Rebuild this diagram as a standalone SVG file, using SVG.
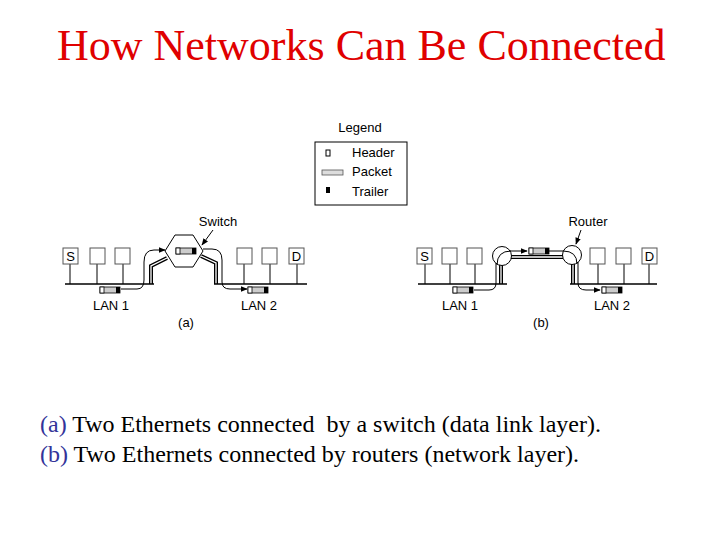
<svg xmlns="http://www.w3.org/2000/svg" width="720" height="540" viewBox="0 0 720 540">
<defs>
<style>
.title{font-family:"Liberation Serif","Times New Roman",serif;font-size:44px;fill:#e00000}
.cap{font-family:"Liberation Serif","Times New Roman",serif;font-size:24px;fill:#000}
.lbl{font-family:"Liberation Sans",Arial,sans-serif;font-size:13px;fill:#000}
.host{fill:#fff;stroke:#555;stroke-width:1}
.lan{stroke:#000;stroke-width:1.6;fill:none}
.thin{stroke:#000;stroke-width:1;fill:none}
.cableB{stroke:#000;stroke-width:4;fill:none}
.cableW{stroke:#fff;stroke-width:1.3;fill:none}
.rtr{fill:#fff;stroke:#000;stroke-width:1}
</style>
<marker id="ah" viewBox="0 0 10 10" refX="9" refY="5" markerWidth="7" markerHeight="7" orient="auto" markerUnits="userSpaceOnUse">
<path d="M0,1 L10,5 L0,9 Z" fill="#000"/>
</marker>
<g id="pkt">
<rect x="0" y="0" width="20" height="6" fill="#ccc" stroke="#000" stroke-width="0.8"/>
<rect x="0" y="0" width="4" height="6" fill="#fff" stroke="#000" stroke-width="0.8"/>
<rect x="16" y="0" width="4" height="6" fill="#000"/>
</g>
</defs>
<rect width="720" height="540" fill="#fff"/>
<text class="title" x="57" y="60">How Networks Can Be Connected</text>

<g id="legend">
<text class="lbl" x="360" y="132" text-anchor="middle">Legend</text>
<rect x="315" y="142" width="92" height="63" fill="#fff" stroke="#000" stroke-width="1"/>
<rect x="326" y="150" width="4" height="6" fill="#fff" stroke="#000" stroke-width="1"/>
<text class="lbl" x="352" y="157">Header</text>
<rect x="322" y="170" width="21" height="5" fill="#ddd" stroke="#555" stroke-width="0.8"/>
<text class="lbl" x="352" y="176">Packet</text>
<rect x="326" y="187" width="4" height="6" fill="#000"/>
<text class="lbl" x="352" y="196">Trailer</text>
</g>

<g id="connectors">
<!-- (a) cables -->
<path class="cableB" d="M151,284 L151,266 L167,258"/>
<path class="cableW" d="M151,284 L151,266 L167,258"/>
<path class="cableB" d="M201,256 L216,263 L216,284"/>
<path class="cableW" d="M201,256 L216,263 L216,284"/>
<!-- (a) arrows -->
<path class="thin" d="M121,289 L137,289 Q144,289 144,280 L144,262 Q144,250 154,250 L165,250" marker-end="url(#ah)"/>
<path class="thin" d="M203,249 L212,249 Q222,249 222,260 L222,282 Q222,289 230,289 L247,289" marker-end="url(#ah)"/>
<line class="thin" x1="213" y1="230" x2="202" y2="245" marker-end="url(#ah)"/>
<!-- (b) cables -->
<path class="cableB" d="M501,284 L501,262"/>
<path class="cableW" d="M501,284 L501,262"/>
<path class="cableB" d="M508,257 L566,257"/>
<path class="cableW" d="M508,257 L566,257"/>
<path class="cableB" d="M573,284 L573,261"/>
<path class="cableW" d="M573,284 L573,261"/>
<!-- (b) arrows -->
<path class="thin" d="M474,290 L489,290 Q496,290 496,283 L496,262"/>
<line class="thin" x1="510" y1="251" x2="527" y2="251" marker-end="url(#ah)"/>
<line class="thin" x1="549" y1="251" x2="566" y2="251"/>
<path class="thin" d="M578,262 L578,283 Q578,290 586,290 L600,290" marker-end="url(#ah)"/>
<line class="thin" x1="581" y1="230" x2="576" y2="244" marker-end="url(#ah)"/>
</g>

<!-- (a) -->
<g id="lanA1">
<line class="lan" x1="65" y1="284" x2="154" y2="284"/>
<line class="thin" x1="70" y1="264" x2="70" y2="284"/>
<line class="thin" x1="97" y1="264" x2="97" y2="284"/>
<line class="thin" x1="123" y1="264" x2="123" y2="284"/>
<rect class="host" x="63" y="248" width="15" height="16"/>
<rect class="host" x="90" y="248" width="15" height="16"/>
<rect class="host" x="115" y="248" width="15" height="16"/>
<text class="lbl" x="70.5" y="261" text-anchor="middle">S</text>
<use href="#pkt" x="100" y="287"/>
<text class="lbl" x="111" y="310" text-anchor="middle">LAN 1</text>
</g>
<g id="switch">
<polygon points="175,235 193,235 203,251 193,267 175,267 165,251" fill="#fff" stroke="#000" stroke-width="1"/>
<use href="#pkt" x="176" y="248"/>
<text class="lbl" x="218" y="226" text-anchor="middle">Switch</text>
</g>
<g id="lanA2">
<line class="lan" x1="214" y1="284" x2="307" y2="284"/>
<line class="thin" x1="244" y1="263" x2="244" y2="284"/>
<line class="thin" x1="270" y1="263" x2="270" y2="284"/>
<line class="thin" x1="297" y1="263" x2="297" y2="284"/>
<rect class="host" x="237" y="248" width="15" height="16"/>
<rect class="host" x="262" y="248" width="15" height="16"/>
<rect class="host" x="289" y="248" width="15" height="16"/>
<text class="lbl" x="296.5" y="261" text-anchor="middle">D</text>
<use href="#pkt" x="248" y="287"/>
<text class="lbl" x="259" y="310" text-anchor="middle">LAN 2</text>
<text class="lbl" x="186" y="327" text-anchor="middle">(a)</text>
</g>

<!-- (b) -->
<g id="lanB1">
<line class="lan" x1="418" y1="284" x2="507" y2="284"/>
<line class="thin" x1="425" y1="264" x2="425" y2="284"/>
<line class="thin" x1="450" y1="264" x2="450" y2="284"/>
<line class="thin" x1="475" y1="264" x2="475" y2="284"/>
<rect class="host" x="417" y="248" width="15" height="16"/>
<rect class="host" x="442" y="248" width="15" height="16"/>
<rect class="host" x="467" y="248" width="15" height="16"/>
<text class="lbl" x="424.5" y="261" text-anchor="middle">S</text>
<use href="#pkt" x="453" y="287"/>
<text class="lbl" x="460" y="310" text-anchor="middle">LAN 1</text>
</g>
<g id="router1">
<circle class="rtr" cx="502" cy="256" r="9.5"/>
<path class="thin" d="M497,265 Q497,251 511,251"/>
</g>
<g id="router2">
<circle class="rtr" cx="572" cy="255" r="9.5"/>
<path class="thin" d="M563,251 Q577,251 577,264"/>
<text class="lbl" x="588" y="226" text-anchor="middle">Router</text>
</g>
<use href="#pkt" x="529" y="248"/>
<g id="lanB2">
<line class="lan" x1="570" y1="284" x2="657" y2="284"/>
<line class="thin" x1="598" y1="264" x2="598" y2="284"/>
<line class="thin" x1="624" y1="264" x2="624" y2="284"/>
<line class="thin" x1="649" y1="264" x2="649" y2="284"/>
<rect class="host" x="590" y="248" width="15" height="16"/>
<rect class="host" x="616" y="248" width="15" height="16"/>
<rect class="host" x="642" y="248" width="15" height="16"/>
<text class="lbl" x="649.5" y="261" text-anchor="middle">D</text>
<use href="#pkt" x="602" y="287"/>
<text class="lbl" x="612" y="310" text-anchor="middle">LAN 2</text>
<text class="lbl" x="541" y="327" text-anchor="middle">(b)</text>
</g>

<text class="cap" x="40" y="432" xml:space="preserve"><tspan fill="#333399">(a)</tspan> Two Ethernets connected  by a switch (data link layer).</text>
<text class="cap" x="40" y="462"><tspan fill="#333399">(b)</tspan> Two Ethernets connected by routers (network layer).</text>
</svg>
